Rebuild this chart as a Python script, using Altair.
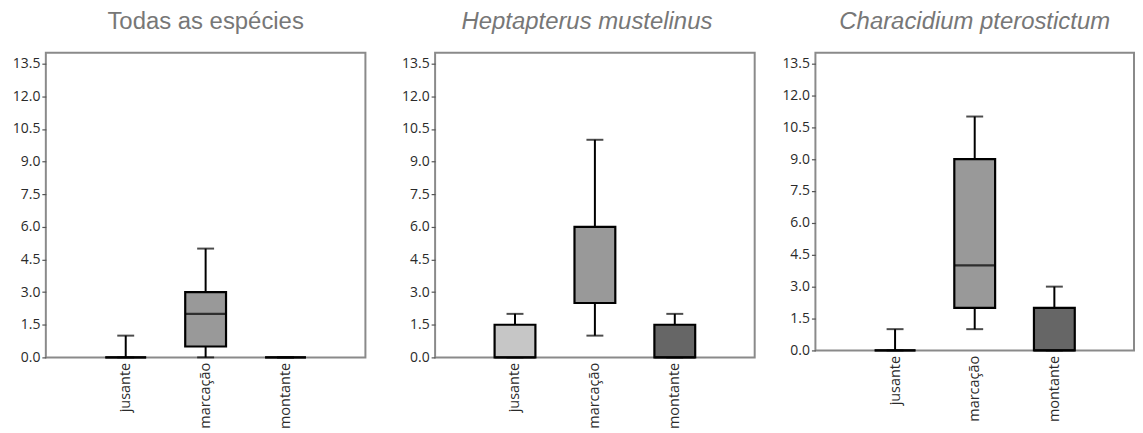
import altair as alt
import pandas as pd

# ---- data ----
panel_titles = ["Todas as espécies", "Heptapterus mustelinus", "Characidium pterostictum"]
panel_italic = [False, True, True]
categories = ["jusante", "marcação", "montante"]

# per panel, per category
whisker_low = [[0, 0, 0], [0, 1, 0], [0, 1, 0]]
q1 = [[0, 0.5, 0], [0, 2.5, 0], [0, 2, 0]]
median = [[0, 2, 0], [0, 2.5, 0], [0, 4, 0]]
q3 = [[0, 3, 0], [1.5, 6, 1.5], [0, 9, 2]]
whisker_high = [[1, 5, 0], [2, 10, 2], [1, 11, 3]]

box_colors = ["#c6c6c6", "#999999", "#666666"]
y_ticks = [0, 1.5, 3, 4.5, 6, 7.5, 9, 10.5, 12, 13.5]

panel_widths = [321, 321, 320]
panel_heights = [306, 306, 299]
axis_extents = [37, 48, 39]
title_dx = [0, -8, 0]


def make_panel(i):
    df = pd.DataFrame({
        "cat": categories,
        "lo": whisker_low[i],
        "q1": q1[i],
        "med": median[i],
        "q3": q3[i],
        "hi": whisker_high[i],
    })
    xaxis = alt.Axis(title=None, labelAngle=-90, labelAlign="right",
                     labelBaseline="middle", ticks=False, domain=False,
                     labelPadding=5, labelFont="Open Sans",
                     labelFontSize=14.5, labelColor="#2a2a2a",
                     labelOverlap=False)
    x = alt.X("cat:N", sort=categories,
              scale=alt.Scale(type="point", padding=1), axis=xaxis)
    yscale = alt.Scale(domain=[0, 14], nice=False, zero=True)
    yaxis = alt.Axis(title=None, values=y_ticks, format=".1f", grid=False,
                     domain=False, tickSize=4, tickColor="#555555",
                     tickWidth=1.2, labelPadding=2, labelFont="Open Sans",
                     labelFontSize=14, labelColor="#2a2a2a", labelOverlap=False,
                     minExtent=axis_extents[i], maxExtent=axis_extents[i])

    def Y(field):
        return alt.Y(field, scale=yscale, axis=yaxis)

    base = alt.Chart(df)
    whisk = base.mark_rule(color="black", strokeWidth=2).encode(
        x=x, y=Y("lo:Q"), y2="hi:Q")
    cap_lo = base.mark_tick(color="black", size=17, thickness=2).encode(
        x=x, y=Y("lo:Q"))
    cap_hi = base.mark_tick(color="black", size=17, thickness=2).encode(
        x=x, y=Y("hi:Q"))
    box = base.mark_bar(size=41, stroke="black", strokeWidth=2.2).encode(
        x=x, y=Y("q1:Q"), y2="q3:Q",
        color=alt.Color("cat:N", scale=alt.Scale(domain=categories, range=box_colors),
                        legend=None))
    med = base.mark_tick(color="black", size=41, thickness=2.2).encode(
        x=x, y=Y("med:Q"))
    title = alt.TitleParams(
        text=panel_titles[i], font="Liberation Sans", fontSize=24,
        fontWeight="normal", fontStyle="italic" if panel_italic[i] else "normal",
        color="#777777", anchor="middle", frame="group", offset=19, dx=title_dx[i])
    return alt.layer(whisk, cap_lo, cap_hi, box, med).properties(
        width=panel_widths[i], height=panel_heights[i], title=title)


chart = alt.hconcat(*[make_panel(i) for i in range(3)], spacing=20).properties(
    padding=0
).configure_view(
    stroke="#8a8a8a", strokeWidth=2
).configure_axis(
    labelFont="Open Sans", labelColor="#2a2a2a",
    labelOverlap=False, grid=False
)

chart.save("out.html", embed_options={"renderer": "svg", "actions": False})
